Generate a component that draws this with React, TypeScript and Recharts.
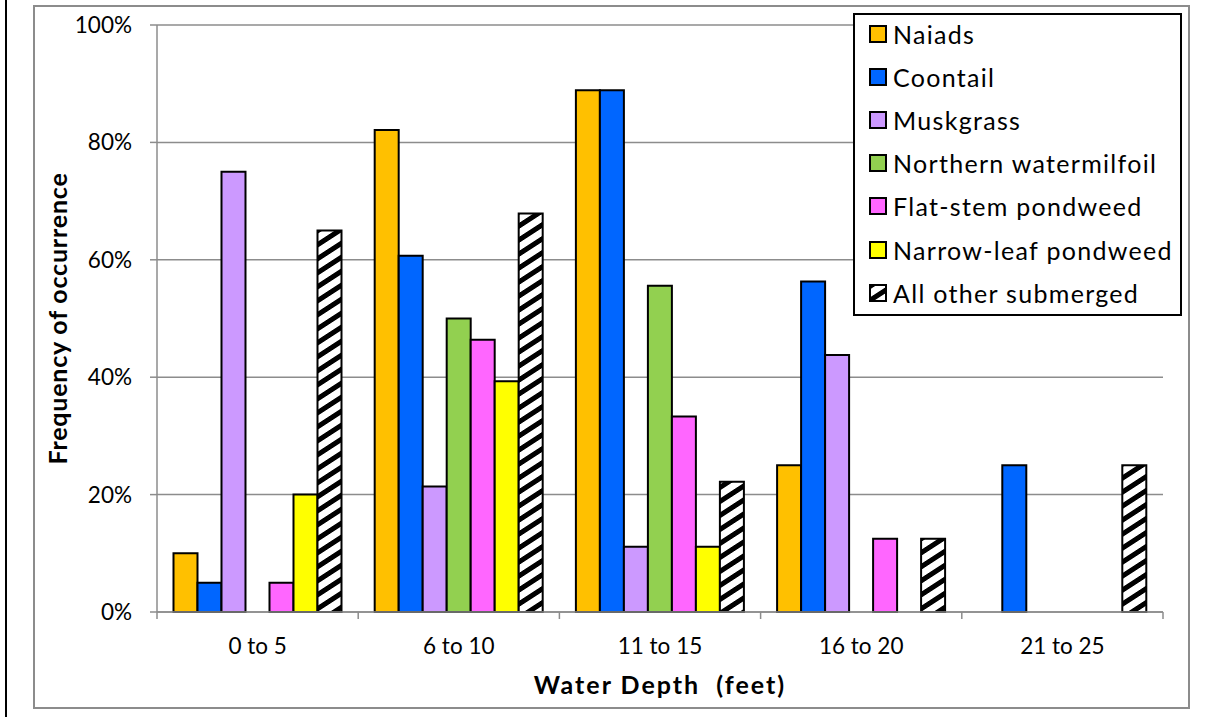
import { BarChart, Bar, XAxis, YAxis, CartesianGrid, Label } from 'recharts';

const depths = ['0 to 5', '6 to 10', '11 to 15', '16 to 20', '21 to 25'];
const naiads = [10, 82.1, 88.9, 25, 0];
const coontail = [5, 60.7, 88.9, 56.3, 25];
const muskgrass = [75, 21.4, 11.1, 43.8, 0];
const northernWatermilfoil = [0, 50, 55.6, 0, 0];
const flatStemPondweed = [5, 46.4, 33.3, 12.5, 0];
const narrowLeafPondweed = [20, 39.3, 11.1, 0, 0];
const allOtherSubmerged = [65, 67.9, 22.2, 12.5, 25];
const yTicks = [0, 20, 40, 60, 80, 100];

const series = [
  { key: 'naiads', name: 'Naiads', fill: '#FFC000', values: naiads },
  { key: 'coontail', name: 'Coontail', fill: '#0066FF', values: coontail },
  { key: 'muskgrass', name: 'Muskgrass', fill: '#CC99FF', values: muskgrass },
  { key: 'northern', name: 'Northern watermilfoil', fill: '#92D050', values: northernWatermilfoil },
  { key: 'flatStem', name: 'Flat-stem pondweed', fill: '#FF66FF', values: flatStemPondweed },
  { key: 'narrowLeaf', name: 'Narrow-leaf pondweed', fill: '#FFFF00', values: narrowLeafPondweed },
  { key: 'allOther', name: 'All other submerged', fill: 'url(#hatch)', values: allOtherSubmerged },
];

const data = depths.map((depth, i) => {
  const row: Record<string, string | number> = { depth };
  series.forEach((s) => {
    row[s.key] = s.values[i];
  });
  return row;
});

const FONT = 'Lato, "Open Sans", sans-serif';
const GRAY = '#8c8c8c';
const W = 1207;
const H = 717;
const MARGIN = { top: 25, right: 44, bottom: 15, left: 0 };
const Y_AXIS_W = 157;
const TICK_SIZE = 7;
const TICK_MARGIN = 19;
const TICK_FONT = 22.5;
const bandWidth = (W - MARGIN.left - MARGIN.right - Y_AXIS_W) / depths.length;

function HatchDefs({ id }: { id: string }) {
  return (
    <defs>
      <pattern id={id} patternUnits="userSpaceOnUse" width="14" height="14" patternTransform="skewY(-33)">
        <rect width="14" height="14" fill="#fff" />
        <rect width="14" height="6" fill="#000" />
      </pattern>
    </defs>
  );
}

function DepthTick(props: any) {
  const { x, y, payload, index } = props;
  const axisY = y - TICK_SIZE - TICK_MARGIN;
  const left = x - bandWidth / 2;
  const right = x + bandWidth / 2;
  return (
    <g>
      <line x1={left} x2={left} y1={axisY} y2={axisY + TICK_SIZE} stroke={GRAY} strokeWidth={1.5} />
      {index === depths.length - 1 && (
        <line x1={right} x2={right} y1={axisY} y2={axisY + TICK_SIZE} stroke={GRAY} strokeWidth={1.5} />
      )}
      <text x={x} y={y} dy="0.71em" textAnchor="middle" fill="#000" fontSize={TICK_FONT} fontFamily={FONT}>
        {payload.value}
      </text>
    </g>
  );
}

function LegendBox() {
  return (
    <div
      style={{
        position: 'absolute',
        left: 853,
        top: 13,
        width: 325,
        height: 299,
        border: '2px solid #000',
        background: '#fff',
        fontFamily: FONT,
        fontSize: 25,
        letterSpacing: 1.3,
        color: '#000',
      }}
    >
      {series.map((s, i) => (
        <div
          key={s.key}
          style={{
            position: 'absolute',
            left: 14,
            top: 19 + i * 43.1 - 21.5,
            height: 43,
            display: 'flex',
            alignItems: 'center',
            whiteSpace: 'nowrap',
          }}
        >
          <svg width={18} height={18} style={{ marginRight: 6, flex: 'none' }}>
            <HatchDefs id={`hatch-legend-${i}`} />
            <rect
              x={1}
              y={1}
              width={16}
              height={16}
              fill={s.key === 'allOther' ? `url(#hatch-legend-${i})` : s.fill}
              stroke="#000"
              strokeWidth={2}
            />
          </svg>
          <span>{s.name}</span>
        </div>
      ))}
    </div>
  );
}

export default function App() {
  return (
    <div style={{ position: 'fixed', left: 0, top: 0, width: W, height: H, background: '#fff' }}>
      <div style={{ position: 'absolute', left: 5, top: 0, width: 2, height: H, background: '#000' }} />
      <div
        style={{
          position: 'absolute',
          left: 33,
          top: 5,
          width: 1153,
          height: 700,
          border: `2px solid ${GRAY}`,
        }}
      />
      <div style={{ position: 'absolute', left: 0, top: 0 }}>
        <BarChart width={W} height={H} data={data} margin={MARGIN} barCategoryGap="8.2%" barGap={0}>
          <HatchDefs id="hatch" />
          <CartesianGrid vertical={false} stroke={GRAY} strokeWidth={1.5} />
          <XAxis
            dataKey="depth"
            interval={0}
            height={90}
            tickLine={false}
            tickSize={TICK_SIZE}
            tickMargin={TICK_MARGIN}
            axisLine={{ stroke: GRAY, strokeWidth: 1.5 }}
            tick={<DepthTick />}
          >
            <Label
              content={({ viewBox }: any) => {
                const cx = viewBox.x + viewBox.width / 2;
                const cy = viewBox.y + viewBox.height - 8;
                return (
                  <text
                    x={cx}
                    y={cy}
                    textAnchor="middle"
                    fill="#000"
                    fontSize={25}
                    fontWeight="bold"
                    fontFamily={FONT}
                    letterSpacing={2}
                    style={{ whiteSpace: 'pre' }}
                  >
                    {'Water Depth  (feet)'}
                  </text>
                );
              }}
            />
          </XAxis>
          <YAxis
            width={Y_AXIS_W}
            domain={[0, 100]}
            ticks={yTicks}
            tickFormatter={(v) => `${v}%`}
            tickSize={TICK_SIZE}
            tickMargin={18}
            axisLine={{ stroke: GRAY, strokeWidth: 1.5 }}
            tickLine={{ stroke: GRAY, strokeWidth: 1.5 }}
            tick={{ fill: '#000', fontSize: TICK_FONT, fontFamily: FONT }}
          >
            <Label
              content={({ viewBox }: any) => {
                const cx = viewBox.x + 67;
                const cy = viewBox.y + viewBox.height / 2;
                return (
                  <text
                    x={cx}
                    y={cy}
                    transform={`rotate(-90, ${cx}, ${cy})`}
                    textAnchor="middle"
                    fill="#000"
                    fontSize={25}
                    fontWeight="bold"
                    fontFamily={FONT}
                    letterSpacing={0.8}
                  >
                    Frequency of occurrence
                  </text>
                );
              }}
            />
          </YAxis>
          {series.map((s) => (
            <Bar
              key={s.key}
              dataKey={s.key}
              name={s.name}
              fill={s.fill}
              stroke="#000"
              strokeWidth={2}
              isAnimationActive={false}
            />
          ))}
        </BarChart>
      </div>
      <LegendBox />
    </div>
  );
}
